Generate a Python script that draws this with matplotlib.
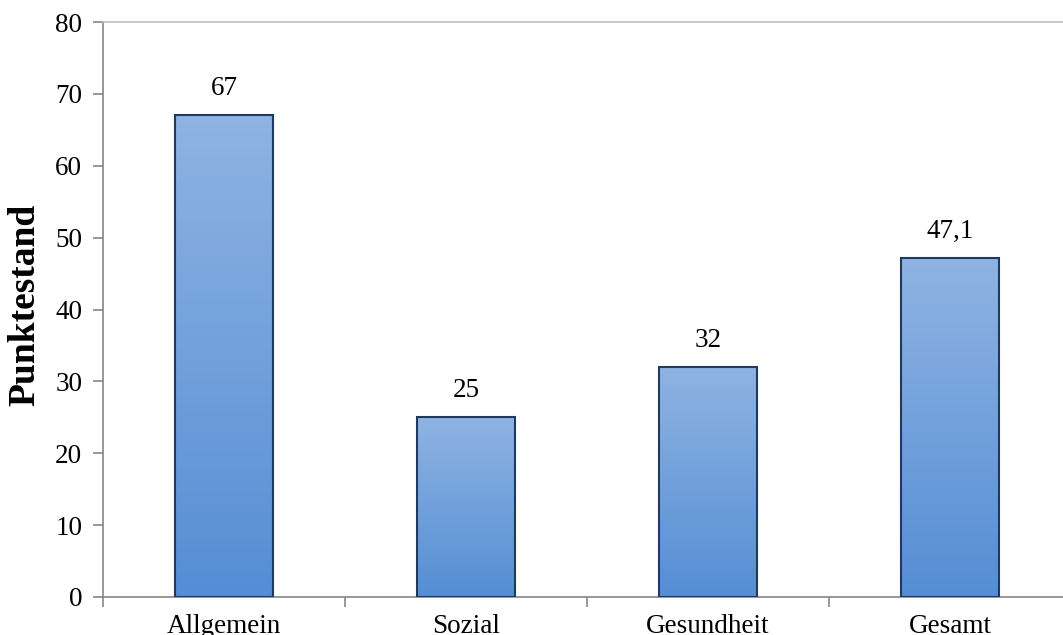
import numpy as np
import matplotlib.pyplot as plt
from matplotlib.colors import LinearSegmentedColormap

categories = ['Allgemein', 'Sozial', 'Gesundheit', 'Gesamt']
values = [67, 25, 32, 47.1]
value_labels = ['67', '25', '32', '47,1']

plt.rcParams['font.family'] = ['Liberation Serif', 'DejaVu Serif']

W, H = 1063, 635
fig = plt.figure(figsize=(W / 100, H / 100), dpi=100)
ax = fig.add_axes([103 / W, 1 - 597 / H, 968 / W, 575 / H])

x = np.arange(len(categories))
bars = ax.bar(x, values, width=0.405, color='none', edgecolor='#1F3A60', linewidth=1.5, zorder=3)

# vertical gradient fill, darker at the bottom
cmap = LinearSegmentedColormap.from_list('grad', ['#558ED5', '#8FB3E2'])
grad = np.linspace(0, 1, 256).reshape(-1, 1)
for b in bars:
    x0, y0 = b.get_x(), b.get_y()
    w, h = b.get_width(), b.get_height()
    im = ax.imshow(grad, cmap=cmap, origin='lower', aspect='auto',
                   extent=[x0, x0 + w, y0, y0 + h], zorder=2)
    im.set_clip_path(b)

for xi, v, lab in zip(x, values, value_labels):
    ax.text(xi, v + 2.0, lab, ha='center', va='bottom', fontsize=19.5)

ax.set_xlim(-0.5, len(categories) - 0.5)
ax.set_ylim(0, 80)
ax.set_yticks(range(0, 81, 10))
ax.set_xticks(x)
ax.set_xticklabels(categories, fontsize=19.5)
ax.set_xticks(np.arange(-0.5, len(categories), 1), minor=True)
ax.tick_params(axis='x', which='major', length=0, pad=12)
ax.tick_params(axis='x', which='minor', length=7, color='#868686', width=1.2)
ax.tick_params(axis='y', labelsize=19.5, length=7, color='#868686', width=1.2, pad=8)

for s in ['left', 'bottom']:
    ax.spines[s].set_color('#868686')
    ax.spines[s].set_linewidth(1.2)
ax.spines['top'].set_color('#BFBFBF')
ax.spines['top'].set_linewidth(1.2)
ax.spines['right'].set_visible(False)

fig.text(25 / W, 1 - 305 / H, 'Punktestand', rotation=90, ha='center', va='center',
         fontsize=27, fontweight='bold')

fig.savefig('out.png', dpi=100)
